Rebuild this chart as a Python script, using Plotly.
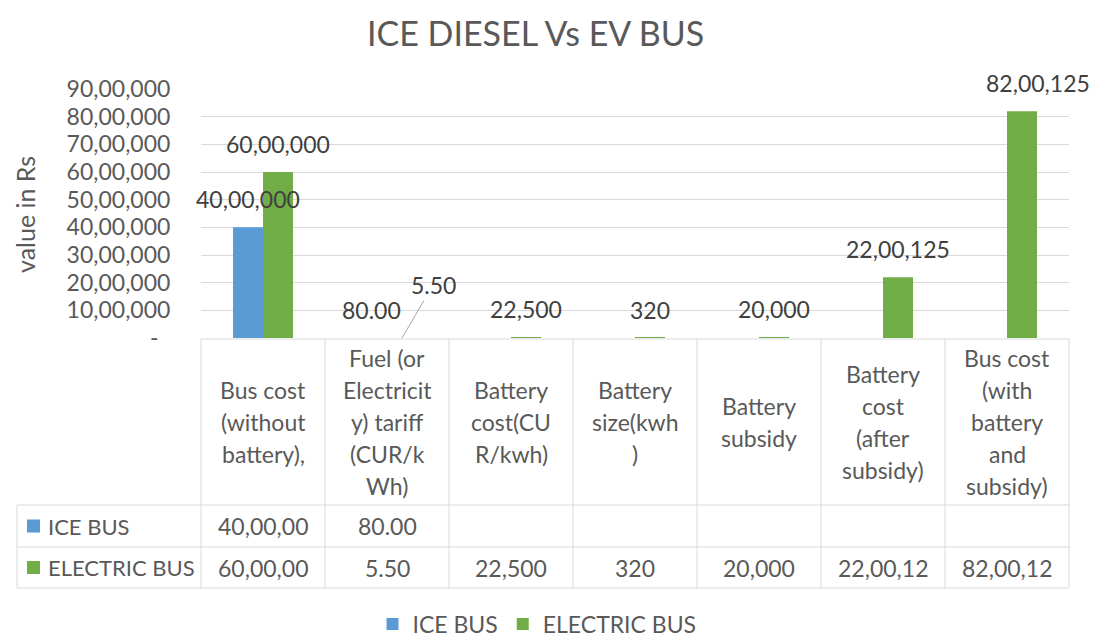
import plotly.graph_objects as go

# ---------------- data ----------------
categories = [
    "Bus cost (without battery),",
    "Fuel (or Electricity) tariff (CUR/kWh)",
    "Battery cost(CUR/kwh)",
    "Battery size(kwh)",
    "Battery subsidy",
    "Battery cost (after subsidy)",
    "Bus cost (with battery and subsidy)",
]
header_lines = [
    ["Bus cost", "(without", "battery),"],
    ["Fuel (or", "Electricit", "y) tariff", "(CUR/k", "Wh)"],
    ["Battery", "cost(CU", "R/kwh)"],
    ["Battery", "size(kwh", ")"],
    ["Battery", "subsidy"],
    ["Battery", "cost", "(after", "subsidy)"],
    ["Bus cost", "(with", "battery", "and", "subsidy)"],
]
series_names = ["ICE BUS", "ELECTRIC BUS"]
ice_bus = [4000000, 80, None, None, None, None, None]
electric_bus = [6000000, 5.5, 22500, 320, 20000, 2200125, 8200125]
decimals = [0, 2, 0, 0, 0, 0, 0]
y_tick_vals = [0, 1000000, 2000000, 3000000, 4000000, 5000000,
               6000000, 7000000, 8000000, 9000000]

# ---------------- style ----------------
W, H = 1095, 637
PL, PR, PT, PB = 201, 1069, 89, 338     # plot area in pixels
FONT = "Lato"
TXT = "#595959"
LBL = "#404040"
GRID = "#D9D9D9"
BLUE = "#5B9BD5"
GREEN = "#70AD47"
BARGAP = 0.516
FS = 23


def fmt(v, d):
    if d:
        return f"{v:.{d}f}"
    s = str(int(round(v)))
    if len(s) <= 3:
        return s
    last3, rest = s[-3:], s[:-3]
    groups = []
    while len(rest) > 2:
        groups.insert(0, rest[-2:])
        rest = rest[:-2]
    if rest:
        groups.insert(0, rest)
    return ",".join(groups + [last3])


def px(x):
    return (x - PL) / (PR - PL)


def py(y):
    return (PB - y) / (PB - PT)


y_tick_text = ["-\u00a0\u00a0" if v == 0 else fmt(v, 0) for v in y_tick_vals]

fig = go.Figure()
fig.add_trace(go.Bar(name=series_names[0], x=categories, y=ice_bus,
                     marker=dict(color=BLUE, line=dict(width=0))))
fig.add_trace(go.Bar(name=series_names[1], x=categories, y=electric_bus,
                     marker=dict(color=GREEN, line=dict(width=0))))

ncat = len(categories)
cat_w = (PR - PL) / ncat
bar_w = (1 - BARGAP) / 2 * cat_w
offsets = [-bar_w / 2, bar_w / 2]

annotations = []
shapes = []


def paper_text(x, y, text, size=FS, color=TXT, xanchor="center", **kw):
    d = dict(x=px(x), y=py(y), xref="paper", yref="paper", text=text,
             showarrow=False, xanchor=xanchor, yanchor="middle",
             font=dict(family=FONT, size=size, color=color))
    d.update(kw)
    annotations.append(d)


# data labels
label_xshift_extra = {(1, 6): 16}
for si, vals in enumerate([ice_bus, electric_bus]):
    for ci, v in enumerate(vals):
        if v is None:
            continue
        txt = fmt(v, decimals[ci])
        if si == 1 and ci == 1:
            # displaced label with leader line
            annotations.append(dict(
                x=categories[ci], y=v, xref="x", yref="y", text=txt,
                xshift=offsets[si], showarrow=True, arrowhead=0,
                arrowwidth=1, arrowcolor="#A6A6A6", ax=31, ay=-53,
                standoff=0, font=dict(family=FONT, size=FS, color=LBL)))
            continue
        annotations.append(dict(
            x=categories[ci], y=v, xref="x", yref="y", text=txt,
            xshift=offsets[si] + label_xshift_extra.get((si, ci), 0),
            yshift=28, showarrow=False, xanchor="center", yanchor="middle",
            font=dict(family=FONT, size=FS, color=LBL)))

# title and y-axis title
paper_text(535, 32, "ICE DIESEL Vs EV BUS", size=34)
paper_text(25, 215, "value in Rs", size=25, textangle=-90)

# ---------------- data table ----------------
line_kw = dict(color=GRID, width=1)
col_edges = [PL + i * cat_w for i in range(ncat + 1)]
TOP, HB, R1, R2 = 339, 505, 547, 588
LEFT = 17
shapes.append(dict(type="line", xref="paper", yref="paper",
                   x0=px(PL), x1=px(PR), y0=py(TOP), y1=py(TOP), line=line_kw))
for yy in (HB, R1, R2):
    shapes.append(dict(type="line", xref="paper", yref="paper",
                       x0=px(LEFT), x1=px(PR), y0=py(yy), y1=py(yy), line=line_kw))
for xx in col_edges:
    shapes.append(dict(type="line", xref="paper", yref="paper",
                       x0=px(xx), x1=px(xx), y0=py(TOP), y1=py(R2), line=line_kw))
shapes.append(dict(type="line", xref="paper", yref="paper",
                   x0=px(LEFT), x1=px(LEFT), y0=py(HB), y1=py(R2), line=line_kw))

# header text
LH = 32
for ci, lines in enumerate(header_lines):
    cx = (col_edges[ci] + col_edges[ci + 1]) / 2
    cy = (TOP + HB) / 2
    n = len(lines)
    for li, t in enumerate(lines):
        paper_text(cx, cy + (li - (n - 1) / 2) * LH, t)

# row labels and values
row_centers = [(HB + R1) / 2, (R1 + R2) / 2]
for si, (vals, col) in enumerate([(ice_bus, BLUE), (electric_bus, GREEN)]):
    cy = row_centers[si]
    shapes.append(dict(type="rect", xref="paper", yref="paper",
                       x0=px(27), x1=px(40), y0=py(cy - 6.5), y1=py(cy + 6.5),
                       fillcolor=col, line=dict(width=0)))
    paper_text(46, cy, series_names[si], size=22, xanchor="left")
    for ci, v in enumerate(vals):
        if v is None:
            continue
        cx = (col_edges[ci] + col_edges[ci + 1]) / 2
        paper_text(cx, cy, fmt(v, decimals[ci])[:8])

fig.update_layout(
    width=W, height=H,
    margin=dict(l=PL, r=W - PR, t=PT, b=H - PB, pad=0, autoexpand=False),
    paper_bgcolor="white", plot_bgcolor="white",
    barmode="group", bargap=BARGAP, bargroupgap=0,
    font=dict(family=FONT, color=TXT),
    xaxis=dict(range=[-0.5, ncat - 0.5], autorange=False,
               showticklabels=False, showgrid=False, zeroline=False,
               showline=False, fixedrange=True),
    yaxis=dict(range=[0, 9000000], autorange=False,
               tickvals=y_tick_vals, ticktext=y_tick_text,
               showgrid=True, gridcolor=GRID, gridwidth=1, zeroline=False,
               showline=False, ticks="outside", ticklen=25,
               tickcolor="rgba(0,0,0,0)", fixedrange=True,
               tickfont=dict(family=FONT, size=FS, color=TXT)),
    legend=dict(orientation="h", x=px(537), xanchor="center",
                y=py(624), yanchor="middle",
                font=dict(family=FONT, size=FS, color=TXT)),
    annotations=annotations, shapes=shapes,
)

fig.write_html("out.html", config={"displayModeBar": False},
               post_script="document.body.style.margin='0';"
                           "document.body.style.padding='0';")
